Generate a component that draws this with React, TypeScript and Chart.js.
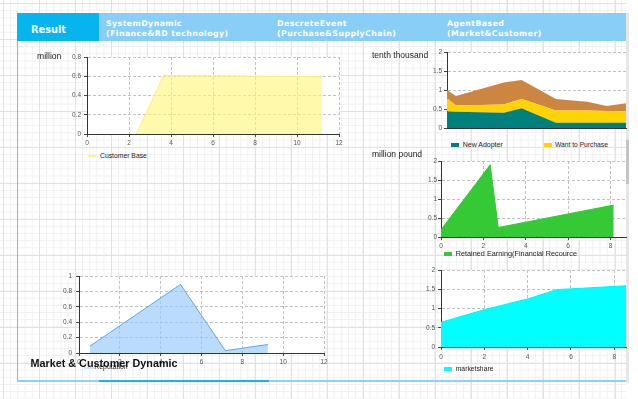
import React, { useEffect, useRef } from 'react';
import { Chart, registerables } from 'chart.js';

Chart.register(...registerables);

// ---------------- data ----------------
const customerBaseTime = [2.35, 3.65, 11.2];
const customerBase = [0, 0.61, 0.595];

const adoptionTime = [0, 0.6, 3.8, 5, 7.3, 9.4, 10.7, 12];
const newAdopter = [0.44, 0.43, 0.4, 0.52, 0.14, 0.14, 0.14, 0.14];
const wantToPurchase = [0.34, 0.16, 0.22, 0.24, 0.32, 0.32, 0.31, 0.3];
const potentialAdopter = [0.22, 0.25, 0.58, 0.5, 0.3, 0.23, 0.13, 0.21];

const retainedTime = [0, 2.32, 2.7, 8.15];
const retainedEarning = [0.19, 1.9, 0.25, 0.84];

const marketTime = [0, 2, 4, 5.35, 8.54];
const marketShare = [0.64, 0.97, 1.25, 1.49, 1.59];

const reputationTime = [0.54, 4.97, 7.17, 9.25];
const reputation = [0.09, 0.89, 0.03, 0.11];

const headerTitles = [
  ['SystemDynamic', '(Finance&RD technology)'],
  ['DescreteEvent', '(Purchase&SupplyChain)'],
  ['AgentBased', '(Market&Customer)'],
];

// ---------------- helpers ----------------
const SANS = '"Liberation Sans", Arial, sans-serif';
const tickFont = { family: SANS, size: 6.5 };

type Box = { x: number; y: number; w: number; h: number };
type Plot = { x0: number; y0: number; x1: number; y1: number };

const pts = (xs: number[], ys: number[]) => xs.map((x, i) => ({ x, y: ys[i] }));

const whiteArea = {
  id: 'whiteArea',
  beforeDraw(chart: any) {
    const { ctx, chartArea: a } = chart;
    ctx.save();
    ctx.fillStyle = '#ffffff';
    ctx.fillRect(a.left, a.top, a.right - a.left, a.bottom - a.top);
    ctx.restore();
  },
};

function axis(opts: any) {
  const showLabels = opts.labels !== false;
  return {
    type: 'linear',
    min: opts.min,
    max: opts.max,
    stacked: opts.stacked || false,
    afterFit: opts.afterFit,
    ticks: {
      display: showLabels,
      stepSize: opts.step,
      font: tickFont,
      color: '#555',
      padding: opts.pad ?? 2,
      maxRotation: 0,
      autoSkip: false,
      includeBounds: false,
      callback: (v: any) => String(Number(Number(v).toFixed(3))),
    },
    grid: {
      display: opts.grid !== false,
      color: '#c2c2c2',
      tickLength: 3,
      tickColor: '#444',
      drawTicks: showLabels,
    },
    border: { display: true, color: '#333', dash: [3, 2] },
  };
}

function makeConfig(box: Box, plot: Plot, datasets: any[], xo: any, yo: any) {
  return {
    type: 'line',
    data: { datasets },
    plugins: [whiteArea],
    options: {
      animation: false,
      responsive: false,
      maintainAspectRatio: false,
      devicePixelRatio: 1,
      layout: {
        padding: {
          left: 0,
          top: plot.y0 - box.y,
          right: box.x + box.w - plot.x1,
          bottom: 0,
        },
      },
      elements: { point: { radius: 0 }, line: { tension: 0 } },
      plugins: { legend: { display: false }, tooltip: { enabled: false }, title: { display: false } },
      scales: {
        x: axis({ ...xo, afterFit: (s: any) => { s.height = box.y + box.h - plot.y1; } }),
        y: axis({ ...yo, afterFit: (s: any) => { s.width = plot.x0 - box.x; } }),
      },
    },
  };
}

function ChartCanvas({ box, build }: { box: Box; build: () => any }) {
  const ref = useRef<HTMLCanvasElement>(null);
  useEffect(() => {
    if (!ref.current) return;
    const chart = new Chart(ref.current, build());
    return () => chart.destroy();
  }, []);
  return (
    <canvas
      ref={ref}
      width={box.w}
      height={box.h}
      style={{ position: 'absolute', left: box.x, top: box.y, width: box.w, height: box.h }}
    />
  );
}

function Txt({ x, y, size, children, bold, color, ls, family }: any) {
  return (
    <div
      style={{
        position: 'absolute',
        left: x,
        top: y - size * 0.6,
        fontFamily: family || SANS,
        fontSize: size,
        lineHeight: `${size * 1.2}px`,
        fontWeight: bold ? 'bold' : 'normal',
        color: color || '#222',
        whiteSpace: 'nowrap',
        letterSpacing: ls || 0,
      }}
    >
      {children}
    </div>
  );
}

function LegendItem({ x, y, color, label, line, size = 7, textX }: any) {
  return (
    <>
      <div
        style={{
          position: 'absolute',
          left: x,
          top: line ? y - 1 : y - 2,
          width: line ? 10 : 8,
          height: line ? 2 : 4,
          background: color,
        }}
      />
      <Txt x={textX ?? x + (line ? 12 : 11.5)} y={y} size={size} color="#222">
        {label}
      </Txt>
    </>
  );
}

// ---------------- chart boxes ----------------
const box1: Box = { x: 20, y: 45, w: 330, h: 105 };
const plot1: Plot = { x0: 87, y0: 57, x1: 339, y1: 134 };

const box2: Box = { x: 405, y: 44, w: 228, h: 90 };
const plot2: Plot = { x0: 447, y0: 52, x1: 626, y1: 128 };

const box3: Box = { x: 405, y: 152, w: 228, h: 98 };
const plot3: Plot = { x0: 441, y0: 161, x1: 626, y1: 237 };

const box4: Box = { x: 405, y: 262, w: 228, h: 100 };
const plot4: Plot = { x0: 441, y0: 270, x1: 626, y1: 347 };

const box5: Box = { x: 40, y: 268, w: 300, h: 100 };
const plot5: Plot = { x0: 79, y0: 276, x1: 324, y1: 353 };

const HEAD_FONT = '"DejaVu Sans", sans-serif';

export default function App() {
  return (
    <div
      style={{
        position: 'fixed',
        left: 0,
        top: 0,
        width: 638,
        height: 399,
        background: '#ffffff',
        overflow: 'hidden',
      }}
    >
      {/* graph paper */}
      <div
        style={{
          position: 'absolute',
          left: 0,
          top: 0,
          width: 626,
          height: 399,
          backgroundImage:
            'linear-gradient(#e2e2e2 1px, transparent 1px), linear-gradient(90deg, #e2e2e2 1px, transparent 1px), linear-gradient(#f0f0f0 1px, transparent 1px), linear-gradient(90deg, #f0f0f0 1px, transparent 1px)',
          backgroundSize: '36px 36px, 36px 36px, 7.2px 7.2px, 7.2px 7.2px',
          backgroundPosition: '3px 3px',
        }}
      />
      {/* scrollbar strip */}
      <div style={{ position: 'absolute', left: 626, top: 13, width: 3, height: 370, background: '#e6e6e6' }} />
      <div style={{ position: 'absolute', left: 626, top: 140, width: 3, height: 44, background: '#c4c4c4' }} />

      {/* frame */}
      <div style={{ position: 'absolute', left: 17, top: 41, width: 1, height: 341, background: '#c9a893' }} />
      <div style={{ position: 'absolute', left: 17, top: 380, width: 609, height: 2, background: '#8fd0f5' }} />
      <div style={{ position: 'absolute', left: 99, top: 380, width: 170, height: 2, background: '#1ab3ea' }} />

      {/* header */}
      <div style={{ position: 'absolute', left: 17, top: 13, width: 609, height: 28, background: '#88cef7' }} />
      <div style={{ position: 'absolute', left: 17, top: 13, width: 82, height: 28, background: '#07b5ee' }} />
      <Txt x={31} y={29.5} size={9.8} bold color="#ffffff" family={HEAD_FONT}>
        Result
      </Txt>
      {headerTitles.map((t, i) => (
        <React.Fragment key={i}>
          <Txt x={[106, 277, 447][i]} y={23.5} size={7.8} bold color="#ffffff" family={HEAD_FONT} ls={0.45}>
            {t[0]}
          </Txt>
          <Txt x={[106, 277, 447][i]} y={34} size={7.8} bold color="#ffffff" family={HEAD_FONT} ls={0.45}>
            {t[1]}
          </Txt>
        </React.Fragment>
      ))}

      {/* chart 1: customer base */}
      <ChartCanvas
        box={box1}
        build={() =>
          makeConfig(
            box1,
            plot1,
            [
              {
                label: 'Customer Base',
                data: pts(customerBaseTime, customerBase),
                fill: 'origin',
                backgroundColor: 'rgba(255,246,120,0.62)',
                borderColor: '#f6ef8a',
                borderWidth: 1,
              },
            ],
            { min: 0, max: 12, step: 2, pad: 2 },
            { min: 0, max: 0.8, step: 0.2, pad: 3 }
          )
        }
      />
      <Txt x={37} y={56} size={8.6}>million</Txt>
      <LegendItem x={88} y={156} color="#fbf59a" label="Customer Base" line size={6.8} />

      {/* chart 2: adopters (stacked) */}
      <ChartCanvas
        box={box2}
        build={() =>
          makeConfig(
            box2,
            plot2,
            [
              {
                label: 'New Adopter',
                data: pts(adoptionTime, newAdopter),
                fill: 'origin',
                backgroundColor: '#00807c',
                borderColor: '#00807c',
                borderWidth: 0,
              },
              {
                label: 'Want to Purchase',
                data: pts(adoptionTime, wantToPurchase),
                fill: '-1',
                backgroundColor: '#ffd300',
                borderColor: '#ffd300',
                borderWidth: 0,
              },
              {
                label: 'Potential Adopter',
                data: pts(adoptionTime, potentialAdopter),
                fill: '-1',
                backgroundColor: '#cd8641',
                borderColor: '#cd8641',
                borderWidth: 0,
              },
            ],
            { min: 0, max: 12, step: 2, labels: false, grid: false },
            { min: 0, max: 2, step: 0.5, pad: 2, stacked: true }
          )
        }
      />
      <Txt x={372} y={55} size={8.5}>tenth thousand</Txt>
      <LegendItem x={451} y={145.3} color="#00807c" label="New Adopter" textX={462.7} />
      <LegendItem x={544.3} y={145.3} color="#ffd300" label="Want to Purchase" textX={555} size={6.7} />

      {/* chart 3: retained earning */}
      <ChartCanvas
        box={box3}
        build={() =>
          makeConfig(
            box3,
            plot3,
            [
              {
                label: 'Retained Earning(Financial Recource',
                data: pts(retainedTime, retainedEarning),
                fill: 'origin',
                backgroundColor: '#35c935',
                borderColor: '#35c935',
                borderWidth: 1,
              },
            ],
            { min: 0, max: 8.73, step: 2, pad: 2 },
            { min: 0, max: 2, step: 0.5, pad: 1 }
          )
        }
      />
      <Txt x={372} y={154} size={8.5}>million pound</Txt>
      <LegendItem x={444} y={254} color="#35c935" label="Retained Earning(Financial Recource" textX={455.7} size={7.3} />

      {/* chart 4: market share */}
      <ChartCanvas
        box={box4}
        build={() =>
          makeConfig(
            box4,
            plot4,
            [
              {
                label: 'marketshare',
                data: pts(marketTime, marketShare),
                fill: 'origin',
                backgroundColor: '#00ffff',
                borderColor: '#00f2f2',
                borderWidth: 1,
              },
            ],
            { min: 0, max: 8.54, step: 2, pad: 3 },
            { min: 0, max: 2, step: 0.5, pad: 3 }
          )
        }
      />
      <LegendItem x={444} y={368.7} color="#00ffff" label="marketshare" textX={455.7} size={6.8} />

      {/* chart 5: reputation */}
      <ChartCanvas
        box={box5}
        build={() =>
          makeConfig(
            box5,
            plot5,
            [
              {
                label: 'Reputation',
                data: pts(reputationTime, reputation),
                fill: 'origin',
                backgroundColor: 'rgba(150,200,250,0.65)',
                borderColor: '#62a6e0',
                borderWidth: 1,
              },
            ],
            { min: 0, max: 12, step: 2, pad: 2 },
            { min: 0, max: 1, step: 0.2, pad: 4 }
          )
        }
      />
      <LegendItem x={84} y={367.5} color="#cfe6fb" label="Reputation" textX={94.3} line size={6.9} />
      <Txt x={30.5} y={363.3} size={10.8} bold color="#111">
        Market &amp; Customer Dynamic
      </Txt>
    </div>
  );
}
